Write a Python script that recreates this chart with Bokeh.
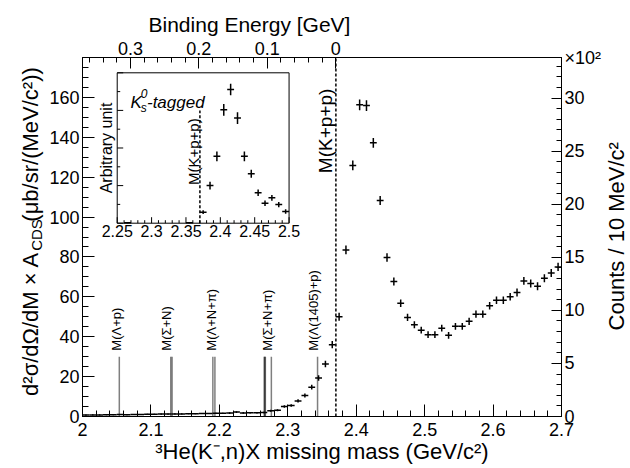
import numpy as np
from bokeh.plotting import figure
from bokeh.models import Range1d, LinearAxis, FixedTicker, CustomJSTickFormatter, Title
from bokeh.layouts import row
from bokeh.embed import file_html
from bokeh.resources import INLINE
from bokeh.core.properties import value

FONT = "Liberation Sans"

# ---------------- data ----------------
mass = [2.005, 2.015, 2.025, 2.035, 2.045, 2.055, 2.065, 2.075, 2.085, 2.095,
        2.105, 2.115, 2.125, 2.135, 2.145, 2.155, 2.165, 2.175, 2.185, 2.195,
        2.205, 2.215, 2.225, 2.235, 2.245, 2.255, 2.265, 2.275, 2.285, 2.295,
        2.305, 2.315, 2.325, 2.335, 2.345, 2.355, 2.365, 2.375, 2.385, 2.395,
        2.405, 2.415, 2.425, 2.435, 2.445, 2.455, 2.465, 2.475, 2.485, 2.495,
        2.505, 2.515, 2.525, 2.535, 2.545, 2.555, 2.565, 2.575, 2.585, 2.595,
        2.605, 2.615, 2.625, 2.635, 2.645, 2.655, 2.665, 2.675, 2.685, 2.695]
xsec = [0.7, 0.8, 0.8, 0.9, 0.9, 1.0, 0.9, 1.0, 1.0, 1.1,
        1.1, 1.2, 1.2, 1.3, 1.3, 1.4, 1.4, 1.5, 1.5, 1.6,
        1.6, 1.7, 2.2, 1.8, 1.9, 1.9, 2.0, 2.9, 3.1, 5.0,
        5.5, 7.8, 10.5, 14.7, 19.3, 26.3, 36.0, 50.0, 83.5, 125.9,
        156.3, 155.9, 137.2, 108.3, 79.7, 67.7, 56.8, 49.7, 46.0, 43.3,
        41.0, 41.0, 44.3, 40.7, 45.2, 45.2, 47.7, 51.3, 51.3, 55.5,
        58.3, 58.3, 60.0, 62.2, 68.0, 66.7, 65.3, 69.3, 72.0, 75.0]
xsec_err = [0.3, 0.3, 0.3, 0.3, 0.3, 0.3, 0.3, 0.3, 0.3, 0.3,
            0.3, 0.3, 0.3, 0.3, 0.3, 0.3, 0.3, 0.3, 0.3, 0.3,
            0.3, 0.4, 0.4, 0.4, 0.4, 0.4, 0.4, 0.5, 0.5, 0.6,
            0.6, 0.8, 1.0, 1.2, 1.4, 1.6, 1.8, 2.0, 2.2, 2.4,
            2.7, 2.7, 2.5, 2.3, 2.1, 2.0, 1.9, 1.8, 1.8, 1.7,
            1.7, 1.7, 1.7, 1.7, 1.7, 1.7, 1.8, 1.8, 1.8, 1.9,
            1.9, 1.9, 1.9, 2.0, 2.0, 2.0, 2.0, 2.0, 2.0, 2.1]
BIN_HALF = 0.005

thr_mass = [2.0538, 2.1290, 2.1309, 2.1905, 2.1935, 2.2655, 2.2665, 2.2672, 2.2760, 2.3435]
THR_TOP = 30
thr_names = ["M(Λ+p)", "M(Σ+N)", "M(Λ+N+π)", "M(Σ+N+π)", "M(Λ(1405)+p)"]
thr_label_mass = [2.0504, 2.1228, 2.1879, 2.2697, 2.3373]
THR_LABEL_Y = 33
KPP_MASS = 2.3703

inset_mass = [2.265, 2.355, 2.375, 2.385, 2.395, 2.405, 2.415, 2.425, 2.435,
              2.445, 2.455, 2.465, 2.475, 2.485, 2.495]
inset_val = [0.03, 0.03, 0.585, 2.0, 3.56, 6.03, 7.11, 5.59, 3.56,
             2.63, 1.62, 1.06, 1.35, 0.99, 0.62]
inset_err = [0.03, 0.03, 0.10, 0.21, 0.26, 0.31, 0.31, 0.31, 0.26,
             0.21, 0.17, 0.15, 0.15, 0.14, 0.12]

bottom_ticks = [2.0, 2.1, 2.2, 2.3, 2.4, 2.5, 2.6, 2.7]
left_ticks = [0, 20, 40, 60, 80, 100, 120, 140, 160]
right_ticks = [0, 5, 10, 15, 20, 25, 30]
right_exp_tick = 33.8          # where the "×10²" multiplier label sits
top_ticks = [0.0, 0.1, 0.2, 0.3]
inset_x_ticks = [2.25, 2.3, 2.35, 2.4, 2.45, 2.5]
inset_y_ticks = [0, 2, 4, 6, 8]
inset_y_minor = [1, 3, 5, 7]

fmt_js = "return String(Math.round(tick * 1000) / 1000);"
fmt_right_js = "if (tick > 33) { return '\u00d710\u00b2'; } return String(Math.round(tick * 1000) / 1000);"


def steps(lo, hi, step):
    return [round(v, 4) for v in np.arange(lo, hi + step / 2, step)]


def style_axis(ax, ticks, minors, code=fmt_js, fs="18px", tin=12, tmin=6, standoff=3):
    ax.ticker = FixedTicker(ticks=ticks, minor_ticks=minors)
    ax.formatter = CustomJSTickFormatter(code=code)
    ax.major_tick_in = tin
    ax.major_tick_out = 0
    ax.minor_tick_in = tmin
    ax.minor_tick_out = 0
    ax.axis_line_color = "black"
    ax.major_tick_line_color = "black"
    ax.minor_tick_line_color = "black"
    ax.major_label_text_font = FONT
    ax.major_label_text_font_size = fs
    ax.major_label_text_color = "black"
    ax.major_label_standoff = standoff
    ax.axis_label_text_font = FONT
    ax.axis_label_text_font_style = "normal"
    ax.axis_label_text_color = "black"


def strip(width):
    s = figure(width=width, height=468, x_range=Range1d(0, width), y_range=Range1d(0, 468),
               x_axis_type=None, y_axis_type=None, min_border=0, outline_line_color=None,
               output_backend="svg", toolbar_location=None)
    s.xgrid.visible = False
    s.ygrid.visible = False
    return s


# ---------------- main figure ----------------
p = figure(width=558, height=468, x_range=Range1d(2.0, 2.7), y_range=Range1d(0, 180),
           output_backend="svg", toolbar_location=None,
           min_border_left=35, min_border_right=40, min_border_top=57, min_border_bottom=52)
p.xgrid.visible = False
p.ygrid.visible = False
p.outline_line_color = "black"
p.outline_line_width = 1
p.background_fill_color = "white"

p.extra_y_ranges = {"cnt": Range1d(0, 33.83),
                    "iy": Range1d(-10.2819, 8.8138)}
p.extra_x_ranges = {"be": Range1d(0.37, -0.33),
                    "ix": Range1d(2.19951, 2.89628)}

style_axis(p.xaxis[0], bottom_ticks, steps(2.0, 2.7, 0.02), standoff=6)
p.xaxis[0].axis_label = "³He(K⁻,n)X missing mass (GeV/c²)"
p.xaxis[0].axis_label_text_font_size = "22px"
p.xaxis[0].axis_label_standoff = 0

style_axis(p.yaxis[0], left_ticks, steps(0, 180, 5))

right_ax = LinearAxis(y_range_name="cnt")
style_axis(right_ax, right_ticks + [right_exp_tick], steps(0, 33, 1), code=fmt_right_js,
           tin=10, tmin=5)
p.add_layout(right_ax, "right")

top_ax = LinearAxis(x_range_name="be")
style_axis(top_ax, top_ticks, steps(0.02, 0.36, 0.02), tin=11, tmin=5)
p.add_layout(top_ax, "above")

p.title = Title(text="Binding Energy [GeV]", align="left", offset=66, standoff=6,
                text_font=FONT, text_font_size="21px", text_font_style="normal",
                text_color="black")

# threshold lines and labels
p.segment(x0=thr_mass, y0=[0] * len(thr_mass), x1=thr_mass, y1=[THR_TOP] * len(thr_mass),
          line_color="black", line_alpha=0.5, line_width=1.5)
p.text(x=thr_label_mass, y=[THR_LABEL_Y] * len(thr_label_mass), text=thr_names,
       angle=np.pi / 2, text_align="left", text_baseline="middle",
       text_font=value(FONT), text_font_size="13px", text_color="black")

# K+p+p threshold
p.segment(x0=[KPP_MASS], y0=[0], x1=[KPP_MASS], y1=[180], line_color="black",
          line_width=1.5, line_dash="3 2")
p.text(x=[2.3557], y=[122], text=["M(K+p+p)"], angle=np.pi / 2, text_align="left",
       text_baseline="middle", text_font=value(FONT), text_font_size="19px", text_color="black")

# data crosses
x = np.array(mass)
y = np.array(xsec)
e = np.array(xsec_err)
p.segment(x0=x - BIN_HALF, y0=y, x1=x + BIN_HALF, y1=y, line_color="black", line_width=1.5)
p.segment(x0=x, y0=y - e, x1=x, y1=y + e, line_color="black", line_width=1.5)

# ---------------- inset (drawn on its own ranges) ----------------
IR = dict(x_range_name="ix", y_range_name="iy")
p.quad(left=[inset_x_ticks[0]], right=[inset_x_ticks[-1]], bottom=[inset_y_ticks[0]],
       top=[inset_y_ticks[-1]], fill_color="white", line_color="black", line_width=1, **IR)
ix_minor = [t for t in steps(2.25, 2.5, 0.01) if min(abs(t - m) for m in inset_x_ticks) > 1e-6]
p.ray(x=inset_x_ticks, y=[0] * len(inset_x_ticks), length=6, length_units="screen",
      angle=np.pi / 2, line_color="black", line_width=1, **IR)
p.ray(x=ix_minor, y=[0] * len(ix_minor), length=3, length_units="screen",
      angle=np.pi / 2, line_color="black", line_width=1, **IR)
p.ray(x=[2.25] * len(inset_y_ticks), y=inset_y_ticks, length=6, length_units="screen",
      angle=0, line_color="black", line_width=1, **IR)
p.ray(x=[2.25] * len(inset_y_minor), y=inset_y_minor, length=3, length_units="screen",
      angle=0, line_color="black", line_width=1, **IR)
p.text(x=inset_x_ticks, y=[0] * len(inset_x_ticks), text=[f"{t:g}" for t in inset_x_ticks],
       y_offset=2, text_align="center", text_baseline="top", text_font=value(FONT),
       text_font_size="16px", text_color="black", **IR)
p.text(x=[2.25], y=[4], text=["Arbitrary unit"], x_offset=-11, angle=np.pi / 2,
       text_align="center", text_baseline="middle", text_font=value(FONT),
       text_font_size="16px", text_color="black", **IR)

ix = np.array(inset_mass)
iy = np.array(inset_val)
ie = np.array(inset_err)
p.segment(x0=ix - BIN_HALF, y0=iy, x1=ix + BIN_HALF, y1=iy, line_color="black", line_width=1.5, **IR)
p.segment(x0=ix, y0=iy - ie, x1=ix, y1=iy + ie, line_color="black", line_width=1.5, **IR)
p.segment(x0=[KPP_MASS], y0=[0], x1=[KPP_MASS], y1=[6.0], line_color="black",
          line_width=1.5, line_dash="3 2", **IR)
p.text(x=[2.3611], y=[2.03], text=["M(K+p+p)"], angle=np.pi / 2, text_align="left",
       text_baseline="middle", text_font=value(FONT), text_font_size="15px",
       text_color="black", **IR)
p.text(x=[2.2692], y=[6.42], text=["K"], text_align="left", text_baseline="alphabetic",
       text_font=value(FONT), text_font_style="italic", text_font_size="17px", **IR)
p.text(x=[2.2841], y=[6.9], text=["0"], text_align="left", text_baseline="alphabetic",
       text_font=value(FONT), text_font_style="italic", text_font_size="12px", **IR)
p.text(x=[2.2841], y=[6.12], text=["s"], text_align="left", text_baseline="alphabetic",
       text_font=value(FONT), text_font_style="italic", text_font_size="12px", **IR)
p.text(x=[2.2933], y=[6.42], text=["-tagged"], text_align="left", text_baseline="alphabetic",
       text_font=value(FONT), text_font_style="italic", text_font_size="17px", **IR)

# ---------------- left strip: composite y title ----------------
ls = strip(46)
J = 215   # junction between "A" and its subscript (strip pixels from bottom)
ls.text(x=[30], y=[J], text=["d²σ/dΩ/dM × A"], angle=np.pi / 2, text_align="right",
        text_baseline="middle", text_font=value(FONT), text_font_size="22px", text_color="black")
ls.text(x=[36], y=[J + 1], text=["CDS"], angle=np.pi / 2, text_align="left",
        text_baseline="middle", text_font=value(FONT), text_font_size="15px", text_color="black")
ls.text(x=[30], y=[J + 39], text=["(μb/sr/(MeV/c²))"], angle=np.pi / 2, text_align="left",
        text_baseline="middle", text_font=value(FONT), text_font_size="22px", text_color="black")

# ---------------- right strip: right-axis title ----------------
rs = strip(26)
rs.text(x=[11.5], y=[235], text=["Counts / 10 MeV/c²"], angle=np.pi / 2, text_align="center",
        text_baseline="middle", text_font=value(FONT), text_font_size="22px", text_color="black")

root = row(ls, p, rs)

with open("out.html", "w", encoding="utf-8") as f:
    f.write(file_html(root, INLINE))
